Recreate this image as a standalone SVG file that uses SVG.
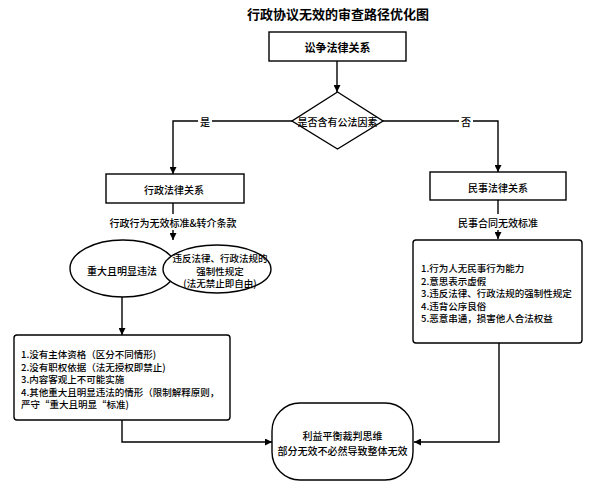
<svg xmlns="http://www.w3.org/2000/svg" width="590" height="488" viewBox="0 0 590 488">
<style>
text{font-family:"Noto Sans CJK SC","Noto Sans",sans-serif;fill:#000;font-weight:500;}
.t{font-size:10px;text-anchor:middle;dominant-baseline:central;}
.e{font-size:9.5px;text-anchor:middle;dominant-baseline:central;}
.l{font-size:9.5px;dominant-baseline:central;}
.s{fill:#fff;stroke:#000;stroke-width:1.4;}
.c{fill:none;stroke:#000;stroke-width:1.4;}
</style>
<defs>
<marker id="a" viewBox="0 0 10 10" refX="10" refY="5" markerWidth="7" markerHeight="7" markerUnits="userSpaceOnUse" orient="auto"><path d="M0,0L10,5L0,10z" fill="#000"/></marker>
</defs>
<rect width="590" height="488" fill="#fff"/>
<text x="338" y="13" font-size="13" font-weight="bold" text-anchor="middle" dominant-baseline="central" style="font-weight:bold">行政协议无效的审查路径优化图</text>
<g id="connectors">
<path class="c" d="M337,61V92" marker-end="url(#a)"/>
<path class="c" d="M292,121H173V174" marker-end="url(#a)"/>
<path class="c" d="M383,121H498V172" marker-end="url(#a)"/>
<path class="c" d="M173,203V240" marker-end="url(#a)"/>
<path class="c" d="M498,200V239" marker-end="url(#a)"/>
<path class="c" d="M122,297V335" marker-end="url(#a)"/>
<path class="c" d="M122,420V442H272" marker-end="url(#a)"/>
<path class="c" d="M499,343V442H414" marker-end="url(#a)"/>
<rect x="198" y="114" width="14" height="14" fill="#fff"/>
<text class="t" x="205" y="121">是</text>
<rect x="459" y="114" width="14" height="14" fill="#fff"/>
<text class="t" x="466" y="121">否</text>
<rect x="104" y="214" width="140" height="16" fill="#fff"/>
<text class="t" x="173" y="222">行政行为无效标准&amp;转介条款</text>
<rect x="458" y="214" width="82" height="16" fill="#fff"/>
<text class="t" x="498" y="222">民事合同无效标准</text>
</g>
<g id="n-dispute">
<rect class="s" x="269" y="32" width="137" height="29"/>
<text class="t" x="337.5" y="47" font-size="11" style="font-size:11px;font-weight:bold">讼争法律关系</text>
</g>
<g id="n-decision">
<path class="s" d="M337.5,92L383,121L337.5,149L292,121z"/>
<text class="t" x="337.5" y="121">是否含有公法因素</text>
</g>
<g id="n-admin">
<rect class="s" x="106" y="174" width="138" height="29"/>
<text class="t" x="174" y="189">行政法律关系</text>
</g>
<g id="n-civil">
<rect class="s" x="430" y="172" width="136" height="28"/>
<text class="t" x="498" y="187">民事法律关系</text>
</g>
<g id="n-major">
<ellipse class="s" cx="123" cy="268.5" rx="53" ry="28.5"/>
<text class="t" x="122" y="270">重大且明显违法</text>
</g>
<g id="n-mandatory">
<ellipse class="s" cx="217" cy="269" rx="54" ry="24"/>
<text class="e" x="220" y="258">违反法律、行政法规的</text>
<text class="e" x="220" y="270.5">强制性规定</text>
<text class="e" x="220" y="283">(法无禁止即自由)</text>
</g>
<g id="n-adminlist">
<rect class="s" x="14" y="335" width="216" height="85" rx="3"/>
<text class="l" x="21" y="354">1.没有主体资格（区分不同情形)</text>
<text class="l" x="21" y="366.5">2.没有职权依据（法无授权即禁止)</text>
<text class="l" x="21" y="379">3.内容客观上不可能实施</text>
<text class="l" x="21" y="391.5">4.其他重大且明显违法的情形（限制解释原则，</text>
<text class="l" x="21" y="404">严守“重大且明显“标准)</text>
</g>
<g id="n-civillist">
<rect class="s" x="413" y="240" width="169" height="103" rx="3"/>
<text class="l" x="421" y="268">1.行为人无民事行为能力</text>
<text class="l" x="421" y="280.5">2.意思表示虚假</text>
<text class="l" x="421" y="293">3.违反法律、行政法规的强制性规定</text>
<text class="l" x="421" y="305.5">4.违背公序良俗</text>
<text class="l" x="421" y="318">5.恶意串通，损害他人合法权益</text>
</g>
<g id="n-balance">
<rect class="s" x="272" y="403" width="141" height="77" rx="28"/>
<text class="t" x="342.5" y="435">利益平衡裁判思维</text>
<text class="t" x="342.5" y="450">部分无效不必然导致整体无效</text>
</g>
</svg>
